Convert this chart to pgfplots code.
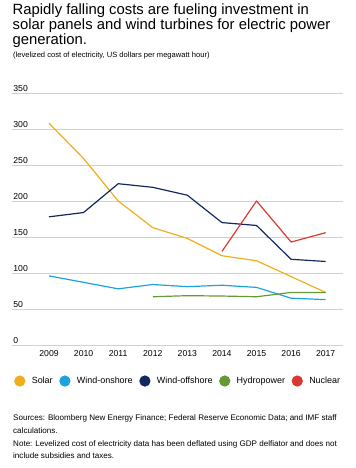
\documentclass[border=0pt]{standalone}
\usepackage{fontspec}
\setmainfont{Liberation Sans}
\usepackage{pgfplots}
\pgfplotsset{compat=1.18}
\definecolor{solar}{HTML}{F0AE1E}
\definecolor{onshore}{HTML}{1EA2DE}
\definecolor{offshore}{HTML}{12285E}
\definecolor{hydro}{HTML}{649A34}
\definecolor{nuclear}{HTML}{DA3A2E}
\begin{document}
\begin{tikzpicture}[x=1bp,y=1bp]
\useasboundingbox (0,0) rectangle (355,468);
\node[anchor=base west, inner sep=0pt, align=left, font=\fontsize{14.9}{15.4}\selectfont] at (12.5,423)
 {Rapidly falling costs are fueling investment in\\solar panels and wind turbines for electric power\\generation.};
\node[anchor=base west, inner sep=0pt, font=\fontsize{7.6}{8}\selectfont] at (13,410)
 {(levelized cost of electricity, US dollars per megawatt hour)};
\begin{axis}[
  at={(12bp,123bp)}, anchor=south west,
  scale only axis, width=331bp, height=252bp,
  xmin=2007.93, xmax=2017.5, ymin=0, ymax=350,
  xtick={2009,...,2017}, ytick={0,50,...,350},
  ymajorgrids, grid style={draw=black!18, line width=0.6pt},
  axis line style={draw=none}, tick style={draw=none},
  /pgf/number format/assume math mode=true,
  xticklabel style={/pgf/number format/1000 sep={}, font=\fontsize{8.7}{10}\selectfont, yshift=-2bp},
  yticklabel style={anchor=south west, inner sep=1.2bp, font=\fontsize{8.7}{10}\selectfont},
  legend style={at={(-0.003,-0.143)}, anchor=west, draw=none, fill=none,
    legend columns=5, font=\fontsize{9}{10}\selectfont,
    /tikz/every even column/.append style={column sep=4.6bp}},
  legend image code/.code={\fill[#1] (5bp,0) circle (5bp); \path[draw=none,fill=none] (0,0) -- (15bp,0);},
  every axis plot/.append style={line width=1.2pt, line join=round},
]
\addplot[color=solar] coordinates {(2009,308) (2010,259) (2011,200) (2012,163) (2013,148) (2014,124) (2015,117) (2016,95) (2017,73)};
\addlegendentry{Solar}
\addplot[color=onshore] coordinates {(2009,96) (2010,87) (2011,78) (2012,84) (2013,81) (2014,83) (2015,80) (2016,65) (2017,63)};
\addlegendentry{Wind-onshore}
\addplot[color=offshore] coordinates {(2009,178) (2010,184) (2011,224) (2012,219) (2013,208) (2014,170) (2015,166) (2016,119) (2017,116)};
\addlegendentry{Wind-offshore}
\addplot[color=hydro] coordinates {(2012,67) (2013,68.5) (2014,68) (2015,67) (2016,73) (2017,73)};
\addlegendentry{Hydropower}
\addplot[color=nuclear] coordinates {(2014,130) (2015,200) (2016,143) (2017,156)};
\addlegendentry{Nuclear}
\end{axis}
\node[anchor=base west, inner sep=0pt, align=left, font=\fontsize{8.1}{13}\selectfont] at (13,9)
 {Sources: Bloomberg New Energy Finance; Federal Reserve Economic Data; and IMF staff\\
  calculations.\\
  Note: Levelized cost of electricity data has been deflated using GDP delfiator and does not\\
  include subsidies and taxes.};
\end{tikzpicture}
\end{document}
